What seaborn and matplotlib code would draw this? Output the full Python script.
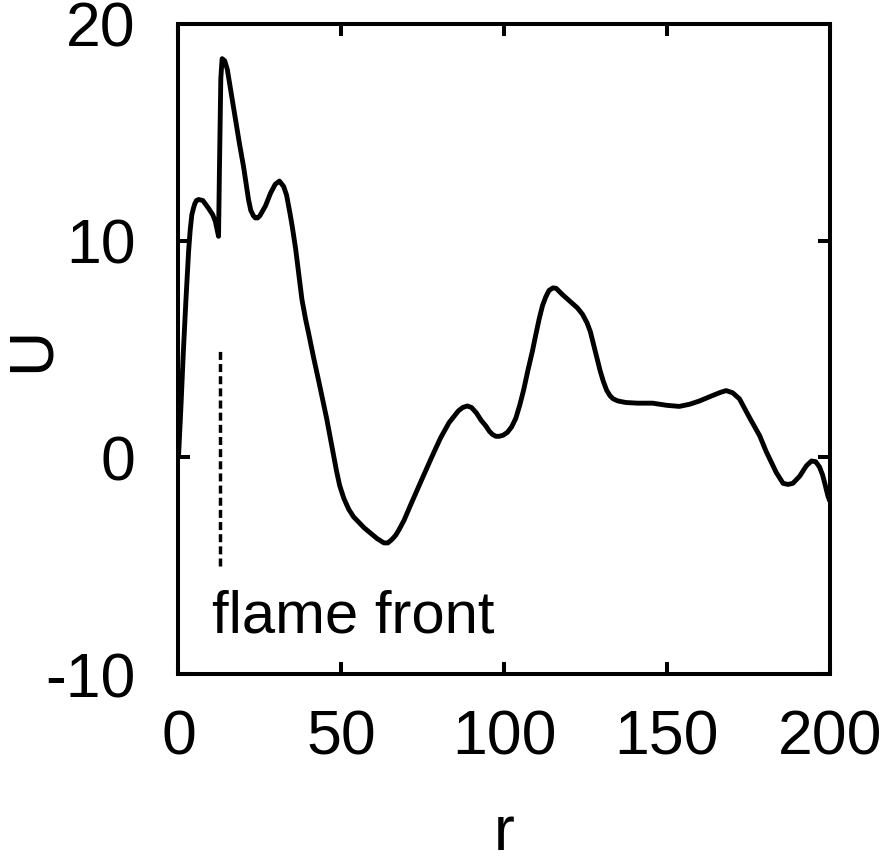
import numpy as np
import pandas as pd
import matplotlib
matplotlib.use("Agg")
import matplotlib.pyplot as plt
import seaborn as sns

# --- data ---
r = [0, 0.8, 1.5, 2.3, 3.1, 3.6, 4.1, 4.6, 5.0, 5.5, 6.2, 7.5, 9.2, 10.5, 11.3, 12.3,
     12.6, 13.0, 13.4, 14.2, 15.0, 16.2, 17.4, 18.7, 20.0, 20.8, 21.5, 22.2, 23.0,
     23.6, 24.3, 25.0, 26.7, 28.3, 29.7, 31.0, 32.3, 33.2, 34.2, 35.0, 36.0, 37.0,
     37.9, 39.0, 40.0, 41.5, 43.1, 44.5, 45.5, 46.5, 47.5, 48.5, 49.5, 50.8, 52.3,
     53.8, 55.4, 57.0, 59.0, 61.0, 63.1, 64.3, 65.5, 66.7, 67.7, 69.3, 71.0, 74.5,
     77.9, 80.5, 83.1, 86.0, 87.3, 88.7, 90.0, 91.5, 93.0, 94.4, 95.5, 96.5, 97.5,
     98.5, 99.7, 101.0, 102.3, 103.6, 104.8, 106.0, 107.3, 108.7, 109.8, 110.8,
     111.8, 112.8, 113.8, 115.0, 116.0, 117.0, 118.0, 119.5, 121.0, 122.5, 124.1,
     125.5, 126.5, 127.5, 128.5, 129.5, 130.5, 131.5, 132.5, 133.5, 135.0, 137.4,
     141.0, 145.6, 150.0, 153.8, 157.0, 160.0, 164.0, 166.5, 168.2, 170.2, 172.3,
     175.4, 178.5, 180.5, 182.0, 183.6, 185.7, 187.2, 188.7, 190.8, 192.8, 194.4,
     195.7, 196.9, 197.8, 198.5, 199.5, 200.0]
U = [0, 2.5, 4.9, 7.3, 9.5, 10.5, 11.2, 11.5, 11.7, 11.85, 11.9, 11.85, 11.5, 11.2,
     10.9, 10.2, 13.5, 17.5, 18.4, 18.3, 17.9, 16.8, 15.7, 14.5, 13.4, 12.6, 11.9,
     11.4, 11.15, 11.05, 11.05, 11.15, 11.6, 12.2, 12.6, 12.75, 12.5, 12.1, 11.3,
     10.6, 9.6, 8.4, 7.3, 6.4, 5.7, 4.6, 3.5, 2.5, 1.8, 1.0, 0.2, -0.6, -1.3, -1.9,
     -2.4, -2.75, -3.0, -3.25, -3.5, -3.75, -3.95, -3.95, -3.8, -3.6, -3.35, -2.9,
     -2.3, -1.1, 0.05, 0.9, 1.6, 2.15, 2.3, 2.37, 2.3, 2.05, 1.7, 1.45, 1.2, 1.05,
     0.97, 0.97, 1.02, 1.15, 1.4, 1.8, 2.4, 3.1, 4.0, 4.9, 5.7, 6.4, 7.0, 7.4, 7.7,
     7.82, 7.8, 7.65, 7.5, 7.3, 7.1, 6.9, 6.6, 6.2, 5.8, 5.2, 4.6, 4.0, 3.5, 3.1,
     2.85, 2.7, 2.6, 2.53, 2.5, 2.5, 2.4, 2.35, 2.45, 2.6, 2.85, 3.0, 3.08, 2.98,
     2.7, 1.83, 1.0, 0.27, -0.2, -0.7, -1.2, -1.25, -1.2, -0.87, -0.4, -0.17, -0.2,
     -0.45, -0.8, -1.2, -1.8, -2.0]
front_r = [12.9, 12.9]
front_U = [-5, 5]
front_label = "flame front"
xticks = [0, 50, 100, 150, 200]
yticks = [-10, 0, 10, 20]

df = pd.DataFrame({"r": r, "U": U})
front = pd.DataFrame({"r": front_r, "U": front_U})

sns.set_theme(style="ticks")
plt.rcParams["font.family"] = ["Liberation Sans", "DejaVu Sans"]
plt.rcParams["axes.unicode_minus"] = False
for key in ["text.color", "axes.labelcolor", "xtick.color", "ytick.color",
            "xtick.labelcolor", "ytick.labelcolor", "axes.edgecolor"]:
    plt.rcParams[key] = "black"

fig = plt.figure(figsize=(8.92, 8.63), dpi=100)
ax = fig.add_axes([0.2001, 0.2190, 0.7300, 0.7532])

sns.lineplot(data=df, x="r", y="U", ax=ax, color="black", linewidth=3.5,
             sort=False, estimator=None)
sns.lineplot(data=front, x="r", y="U", ax=ax, color="black", linewidth=2.5,
             linestyle=(0, (2.3, 1.2)), sort=False, estimator=None)
ax.text(10.2, -8.1, front_label, fontsize=43, ha="left", va="baseline")

ax.set_xlim(0, 200)
ax.set_ylim(-10, 20)
ax.set_xticks(xticks)
ax.set_yticks(yticks)
ax.tick_params(direction="in", length=8.5, width=2.9, labelsize=45,
               top=True, right=True, color="black", labelcolor="black")
ax.tick_params(axis="x", pad=25)
ax.tick_params(axis="y", pad=31)
for s in ax.spines.values():
    s.set_visible(True)
    s.set_linewidth(2.9)
    s.set_color("black")

ax.set_xlabel("r", fontsize=45)
ax.set_ylabel("U", fontsize=45)
ax.xaxis.set_label_coords(0.5, -0.2)
ax.yaxis.set_label_coords(-0.18, 0.5)

fig.savefig("out.png", dpi=100)
